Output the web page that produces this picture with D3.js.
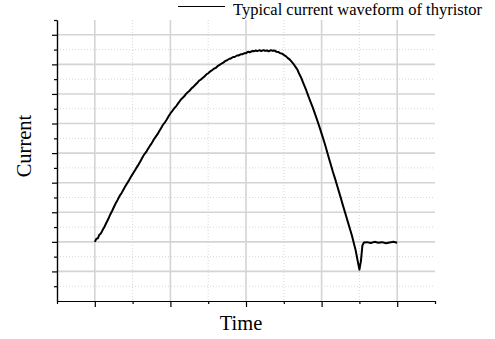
<!DOCTYPE html>
<html>
<head>
<meta charset="utf-8">
<script src="https://cdn.jsdelivr.net/npm/d3@7"></script>
<style>
  html, body { margin: 0; padding: 0; background: #fff; }
  svg { display: block; font-family: "Liberation Serif", "Times New Roman", serif; }
</style>
</head>
<body>
<svg id="chart" width="495" height="339"></svg>
<script>
// Sampled thyristor current: time (arbitrary units) and current (arbitrary units)
const timeValues = [
  0.00, 0.02, 0.04, 0.06, 0.08, 0.10, 0.13, 0.15, 0.18, 0.20,
  0.23, 0.25, 0.28, 0.30, 0.33, 0.35, 0.38, 0.40, 0.43, 0.45,
  0.48, 0.50, 0.53, 0.55, 0.58, 0.60, 0.63, 0.65, 0.68, 0.70,
  0.73, 0.75, 0.78, 0.80, 0.83, 0.85, 0.88, 0.90, 0.93, 0.95,
  0.98, 1.00, 1.03, 1.05, 1.08, 1.10, 1.13, 1.15, 1.18, 1.20,
  1.23, 1.25, 1.28, 1.30, 1.33, 1.35, 1.38, 1.40, 1.43, 1.45,
  1.48, 1.50, 1.53, 1.55, 1.58, 1.60, 1.63, 1.65, 1.68, 1.70,
  1.73, 1.75, 1.78, 1.80, 1.83, 1.85, 1.88, 1.90, 1.93, 1.95,
  1.98, 2.00, 2.03, 2.05, 2.08, 2.10, 2.13, 2.15, 2.18, 2.20,
  2.23, 2.25, 2.28, 2.30, 2.33, 2.35, 2.38, 2.40, 2.43, 2.45,
  2.48, 2.50, 2.53, 2.55, 2.58, 2.60, 2.63, 2.65, 2.68, 2.70,
  2.73, 2.75, 2.78, 2.80, 2.83, 2.85, 2.88, 2.90, 2.93, 2.95,
  2.98, 3.00, 3.03, 3.05, 3.08, 3.10, 3.13, 3.15, 3.18, 3.20,
  3.23, 3.25, 3.28, 3.30, 3.33, 3.35, 3.38, 3.40, 3.43, 3.45,
  3.48, 3.50, 3.52, 3.54, 3.56, 3.60, 3.65, 3.70, 3.75, 3.80,
  3.85, 3.90, 3.95, 4.00
];
const currentValues = [
  2.00, 2.10, 2.12, 2.24, 2.28, 2.38, 2.52, 2.63, 2.78, 2.90,
  3.05, 3.16, 3.32, 3.41, 3.56, 3.63, 3.77, 3.86, 3.99, 4.07,
  4.21, 4.29, 4.41, 4.50, 4.62, 4.71, 4.85, 4.94, 5.04, 5.13,
  5.25, 5.32, 5.46, 5.53, 5.64, 5.73, 5.86, 5.95, 6.05, 6.13,
  6.26, 6.34, 6.44, 6.51, 6.60, 6.67, 6.78, 6.84, 6.91, 6.98,
  7.06, 7.10, 7.19, 7.23, 7.31, 7.36, 7.45, 7.48, 7.55, 7.59,
  7.67, 7.70, 7.77, 7.80, 7.86, 7.88, 7.95, 7.98, 8.03, 8.06,
  8.12, 8.14, 8.19, 8.20, 8.25, 8.25, 8.30, 8.30, 8.34, 8.34,
  8.38, 8.38, 8.43, 8.41, 8.45, 8.44, 8.47, 8.45, 8.48, 8.45,
  8.48, 8.46, 8.47, 8.44, 8.48, 8.46, 8.47, 8.43, 8.42, 8.38,
  8.36, 8.32, 8.27, 8.22, 8.16, 8.10, 8.01, 7.93, 7.82, 7.70,
  7.55, 7.42, 7.23, 7.10, 6.89, 6.76, 6.56, 6.42, 6.20, 6.05,
  5.82, 5.66, 5.42, 5.25, 4.98, 4.80, 4.54, 4.36, 4.12, 3.95,
  3.69, 3.52, 3.25, 3.08, 2.82, 2.65, 2.39, 2.22, 1.92, 1.72,
  1.32, 1.06, 1.35, 1.88, 1.98, 1.99, 1.96, 2.00, 1.97, 1.99,
  1.95, 1.98, 2.00, 1.97
];

// Axis extents and tick positions (ticks carry no labels)
const xDomain = [-0.5, 4.5];
const yDomain = [0, 9.5];
const xMajorTicks = [0, 1, 2, 3, 4];
const xMinorTicks = [-0.5, 0.5, 1.5, 2.5, 3.5, 4.5];
const yMajorTicks = [1, 2, 3, 4, 5, 6, 7, 8, 9];
const yMinorTicks = [0.5, 1.5, 2.5, 3.5, 4.5, 5.5, 6.5, 7.5, 8.5, 9.5];

const seriesName = "Typical current waveform of thyristor";
const xTitle = "Time";
const yTitle = "Current";

const data = timeValues.map((t, i) => ({ t, v: currentValues[i] }));

const svg = d3.select("#chart");
const plotLeft = 57, plotRight = 435, plotTop = 20, plotBottom = 301;

const x = d3.scaleLinear().domain(xDomain).range([plotLeft, plotRight]);
const y = d3.scaleLinear().domain(yDomain).range([plotBottom, plotTop]);

// Grid: dotted minor lines, solid major lines
const grid = svg.append("g");
grid.selectAll("line.xminor").data(xMinorTicks.slice(1, -1)).join("line")
  .attr("x1", d => x(d)).attr("x2", d => x(d)).attr("y1", plotTop).attr("y2", plotBottom)
  .attr("stroke", "#d8d8d8").attr("stroke-width", 1).attr("stroke-dasharray", "1,2");
grid.selectAll("line.yminor").data(yMinorTicks.slice(0, -1)).join("line")
  .attr("y1", d => y(d)).attr("y2", d => y(d)).attr("x1", plotLeft).attr("x2", plotRight)
  .attr("stroke", "#d8d8d8").attr("stroke-width", 1).attr("stroke-dasharray", "1,2");
grid.selectAll("line.xmajor").data(xMajorTicks).join("line")
  .attr("x1", d => x(d)).attr("x2", d => x(d)).attr("y1", plotTop).attr("y2", plotBottom)
  .attr("stroke", "#d4d4d4").attr("stroke-width", 1.6);
grid.selectAll("line.ymajor").data(yMajorTicks).join("line")
  .attr("y1", d => y(d)).attr("y2", d => y(d)).attr("x1", plotLeft).attr("x2", plotRight)
  .attr("stroke", "#d4d4d4").attr("stroke-width", 1.6);

// Axes with major and minor ticks
function styleAxis(g) {
  g.selectAll("text").remove();
  g.selectAll("path, line").attr("stroke", "#000").attr("stroke-width", 1.2);
}
svg.append("g").attr("transform", `translate(0,${plotBottom})`)
  .call(d3.axisBottom(x).tickValues(xMajorTicks).tickSize(6).tickSizeOuter(0).tickFormat(""))
  .call(styleAxis);
svg.append("g").attr("transform", `translate(0,${plotBottom})`)
  .call(d3.axisBottom(x).tickValues(xMinorTicks).tickSize(3).tickSizeOuter(0).tickFormat(""))
  .call(styleAxis);
svg.append("g").attr("transform", `translate(${plotLeft},0)`)
  .call(d3.axisLeft(y).tickValues(yMajorTicks).tickSize(5).tickSizeOuter(0).tickFormat(""))
  .call(styleAxis);
svg.append("g").attr("transform", `translate(${plotLeft},0)`)
  .call(d3.axisLeft(y).tickValues(yMinorTicks).tickSize(3).tickSizeOuter(0).tickFormat(""))
  .call(styleAxis);

// Waveform
svg.append("path").datum(data)
  .attr("fill", "none").attr("stroke", "#000").attr("stroke-width", 2)
  .attr("stroke-linejoin", "round")
  .attr("d", d3.line().x(d => x(d.t)).y(d => y(d.v)));

// Legend
svg.append("line").attr("x1", 178).attr("x2", 225).attr("y1", 6.5).attr("y2", 6.5)
  .attr("stroke", "#000").attr("stroke-width", 1.2);
svg.append("text").attr("x", 233).attr("y", 15).attr("font-size", 16.5)
  .attr("fill", "#000").text(seriesName);

// Axis titles
svg.append("text").attr("x", 241).attr("y", 330)
  .attr("text-anchor", "middle").attr("font-size", 20.5).attr("fill", "#000").text(xTitle);
svg.append("text").attr("transform", "translate(31,146) rotate(-90)")
  .attr("text-anchor", "middle").attr("font-size", 20.5).attr("fill", "#000").text(yTitle);
</script>
</body>
</html>
